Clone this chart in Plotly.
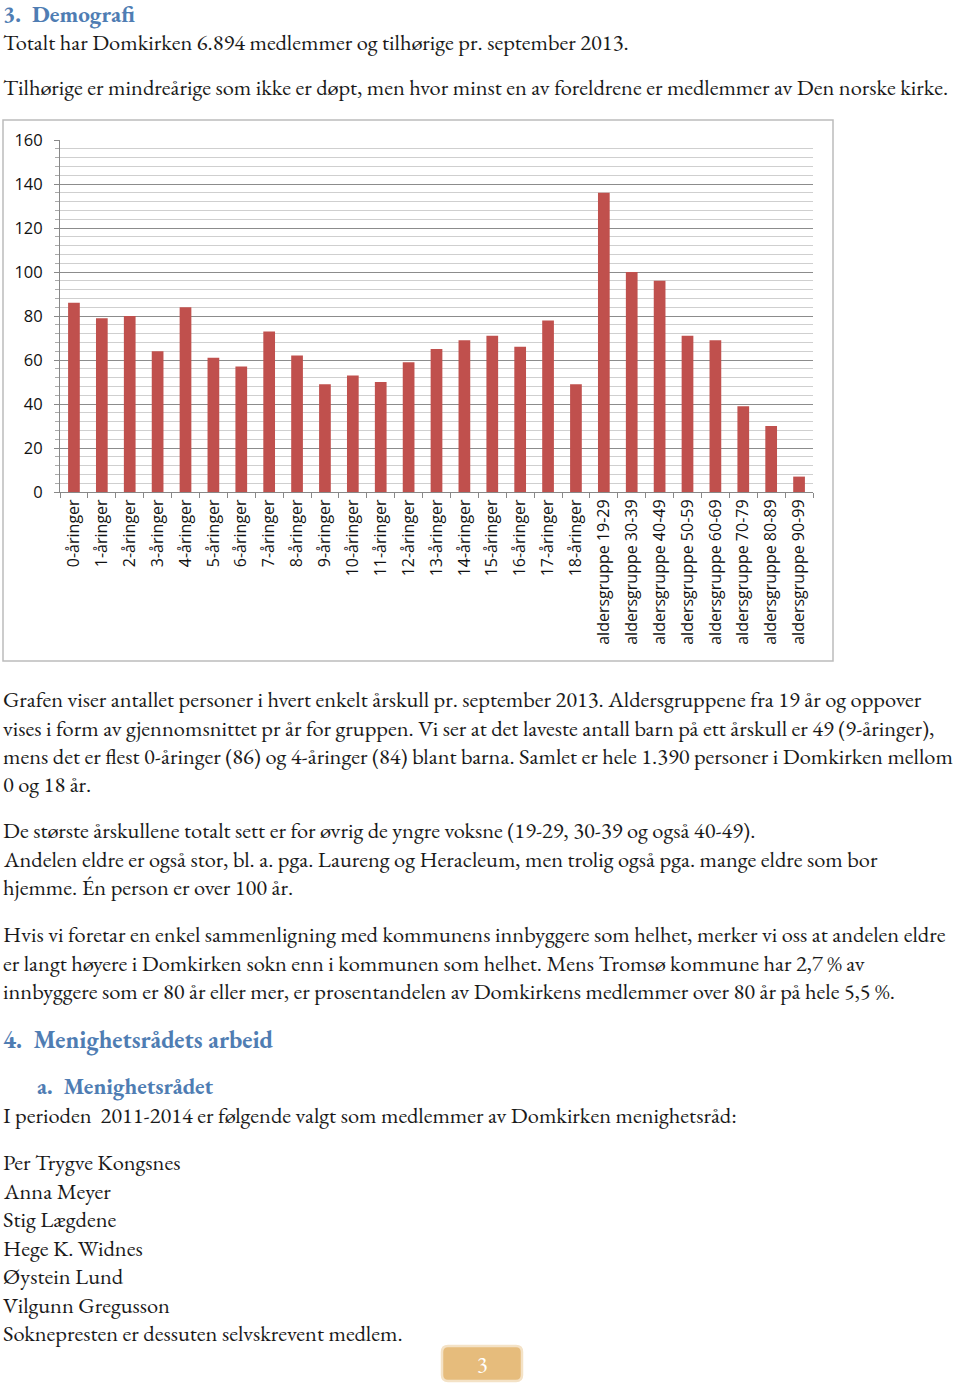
import plotly.graph_objects as go

W, H = 960, 1386

categories = ["0-åringer", "1-åringer", "2-åringer", "3-åringer", "4-åringer", "5-åringer",
              "6-åringer", "7-åringer", "8-åringer", "9-åringer", "10-åringer", "11-åringer",
              "12-åringer", "13-åringer", "14-åringer", "15-åringer", "16-åringer", "17-åringer",
              "18-åringer", "aldersgruppe 19-29", "aldersgruppe 30-39", "aldersgruppe 40-49",
              "aldersgruppe 50-59", "aldersgruppe 60-69", "aldersgruppe 70-79",
              "aldersgruppe 80-89", "aldersgruppe 90-99"]
values = [86, 79, 80, 64, 84, 61, 57, 73, 62, 49, 53, 50, 59, 65, 69, 71, 66, 78, 49,
          136, 100, 96, 71, 69, 39, 30, 7]
y_ticks = [0, 20, 40, 60, 80, 100, 120, 140, 160]

heading1 = "3.  Demografi"
intro_lines = [
    "Totalt har Domkirken 6.894 medlemmer og tilhørige pr. september 2013.",
    "Tilhørige er mindreårige som ikke er døpt, men hvor minst en av foreldrene er medlemmer av Den norske kirke.",
]
para1 = [
    "Grafen viser antallet personer i hvert enkelt årskull pr. september 2013. Aldersgruppene fra 19 år og oppover",
    "vises i form av gjennomsnittet pr år for gruppen. Vi ser at det laveste antall barn på ett årskull er 49 (9-åringer),",
    "mens det er flest 0-åringer (86) og 4-åringer (84) blant barna. Samlet er hele 1.390 personer i Domkirken mellom",
    "0 og 18 år.",
]
para2 = [
    "De største årskullene totalt sett er for øvrig de yngre voksne (19-29, 30-39 og også 40-49).",
    "Andelen eldre er også stor, bl. a. pga. Laureng og Heracleum, men trolig også pga. mange eldre som bor",
    "hjemme. Én person er over 100 år.",
]
para3 = [
    "Hvis vi foretar en enkel sammenligning med kommunens innbyggere som helhet, merker vi oss at andelen eldre",
    "er langt høyere i Domkirken sokn enn i kommunen som helhet. Mens Tromsø kommune har 2,7 % av",
    "innbyggere som er 80 år eller mer, er prosentandelen av Domkirkens medlemmer over 80 år på hele 5,5 %.",
]
heading2 = "4.  Menighetsrådets arbeid"
heading3 = "a.  Menighetsrådet"
period_line = "I perioden  2011-2014 er følgende valgt som medlemmer av Domkirken menighetsråd:"
members = ["Per Trygve Kongsnes", "Anna Meyer", "Stig Lægdene", "Hege K. Widnes",
           "Øystein Lund", "Vilgunn Gregusson", "Soknepresten er dessuten selvskrevent medlem."]
page_number = "3"

def py(y):
    return 1 - y / H

def px(x):
    return x / W

SERIF = "EB Garamond, Garamond, Liberation Serif, serif"
BODY_SIZE = 22.45
BLUE = "#4f7db3"
SANS = "Open Sans, Calibri, sans-serif"

fig = go.Figure()
fig.add_trace(go.Bar(x=categories, y=values, marker=dict(color="#c0504d", line=dict(width=0)),
                     showlegend=False, hoverinfo="x+y"))

annotations = []

def text(x, y, s, size=BODY_SIZE, color="#1a1a1a", bold=False, family=SERIF):
    annotations.append(dict(xref="paper", yref="paper", x=px(x), y=py(y), text=("<b>%s</b>" % s) if bold else s,
                            showarrow=False, xanchor="left", yanchor="middle", borderpad=0,
                            font=dict(family=family, size=size, color=color)))

text(2, 14, heading1, size=23.2, color=BLUE, bold=True)
text(2, 42, intro_lines[0])
text(2, 87, intro_lines[1])
for i, s in enumerate(para1):
    text(2, 699 + i * 28.5, s)
for i, s in enumerate(para2):
    text(2, 830 + i * 28.5, s)
for i, s in enumerate(para3):
    text(2, 934 + i * 28.5, s)
text(2, 1039, heading2, size=24.4, color=BLUE, bold=True)
text(36, 1086, heading3, size=22.8, color=BLUE, bold=True)
text(2, 1115, period_line)
for i, s in enumerate(members):
    text(2, 1162 + i * 28.5, s)

annotations.append(dict(xref="paper", yref="paper", x=px(482), y=py(1364), text=page_number,
                        showarrow=False, xanchor="center", yanchor="middle",
                        font=dict(family=SERIF, size=22, color="white")))

def rounded(x0, y0, x1, y1, r):
    X0, X1 = px(x0), px(x1)
    rx, ry = r / W, r / H
    Y0, Y1 = py(y1), py(y0)
    return (f"M {X0+rx},{Y0} L {X1-rx},{Y0} Q {X1},{Y0} {X1},{Y0+ry} L {X1},{Y1-ry} Q {X1},{Y1} {X1-rx},{Y1} "
            f"L {X0+rx},{Y1} Q {X0},{Y1} {X0},{Y1-ry} L {X0},{Y0+ry} Q {X0},{Y0} {X0+rx},{Y0} Z")

shapes = [
    dict(type="rect", xref="paper", yref="paper", x0=px(3), x1=px(833), y0=py(661), y1=py(120),
         line=dict(color="#bcbcbc", width=1.5), fillcolor="rgba(0,0,0,0)", layer="below"),
    dict(type="path", xref="paper", yref="paper", path=rounded(442, 1346, 522, 1381, 6),
         fillcolor="#e6bc7c", line=dict(color="#f4e2c6", width=2.5)),
]

fig.update_layout(
    template="none",
    width=W, height=H,
    margin=dict(l=0, r=0, t=0, b=0, pad=0, autoexpand=False),
    paper_bgcolor="white", plot_bgcolor="white",
    annotations=annotations, shapes=shapes,
    bargap=0.58, showlegend=False,
    xaxis=dict(domain=[px(60), px(813)], type="category", tickangle=-90, automargin=False,
               tickfont=dict(family=SANS, size=16, color="#111"),
               showline=True, linecolor="#888", linewidth=1,
               ticks="outside", ticklen=5, tickcolor="#888", tickson="boundaries",
               showgrid=False, zeroline=False, fixedrange=True),
    yaxis=dict(domain=[py(492), py(140)], range=[0, 160], tickvals=y_ticks, automargin=False,
               tickfont=dict(family=SANS, size=16.5, color="#111"),
               showline=True, linecolor="#888", linewidth=1,
               ticks="outside", ticklen=5, tickcolor="#888", ticklabelstandoff=8,
               showgrid=True, gridcolor="#8c8c8c", gridwidth=1, zeroline=False,
               minor=dict(dtick=4, showgrid=True, gridcolor="#cfcfcf", gridwidth=1,
                          ticks="outside", ticklen=4, tickcolor="#aaa"),
               fixedrange=True),
)

fig.write_html("out.html", post_script="document.body.style.margin='0';document.body.style.overflow='hidden';")
